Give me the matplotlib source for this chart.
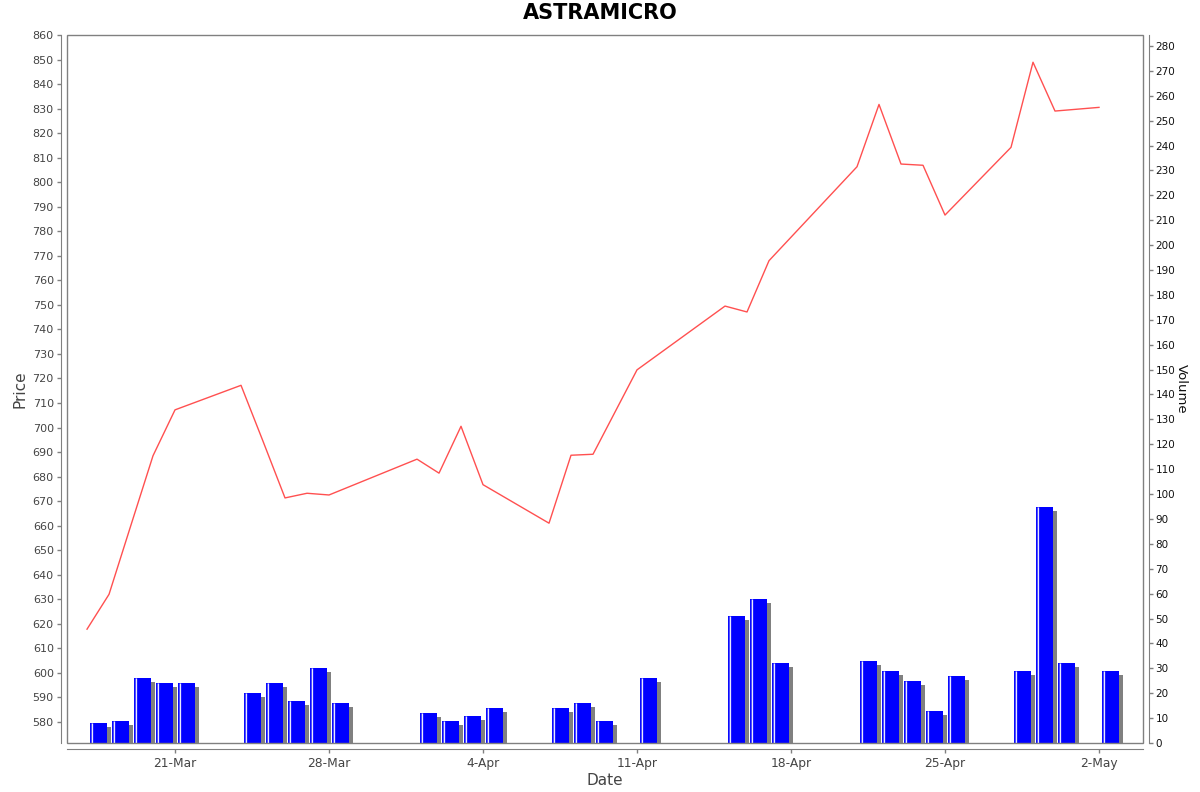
import matplotlib
matplotlib.use("Agg")
import matplotlib.pyplot as plt
import matplotlib.dates as mdates
from matplotlib.patches import Rectangle
import numpy as np
import datetime as dt

plt.rcParams['font.family'] = ['DejaVu Sans']

# ---- data ----
dates = ["2025-03-17", "2025-03-18", "2025-03-19", "2025-03-20", "2025-03-21",
         "2025-03-24", "2025-03-25", "2025-03-26", "2025-03-27", "2025-03-28",
         "2025-04-01", "2025-04-02", "2025-04-03", "2025-04-04",
         "2025-04-07", "2025-04-08", "2025-04-09",
         "2025-04-11",
         "2025-04-15", "2025-04-16", "2025-04-17",
         "2025-04-21", "2025-04-22", "2025-04-23", "2025-04-24", "2025-04-25",
         "2025-04-28", "2025-04-29", "2025-04-30",
         "2025-05-02"]
price = [617.8, 632.0, 660.3, 688.5, 707.2,
         717.2, 694.4, 671.3, 673.2, 672.5,
         687.1, 681.4, 700.5, 676.7,
         661.0, 688.7, 689.1,
         723.5,
         749.5, 747.1, 768.0,
         806.3, 831.7, 807.4, 806.9, 786.6,
         814.2, 848.9, 829.0,
         830.5]
volume = [8, 9, 26, 24, 24,
          20, 24, 17, 30, 16,
          12, 9, 11, 14,
          14, 16, 9,
          26,
          51, 58, 32,
          33, 29, 25, 13, 27,
          29, 95, 32,
          29]
x_tick_dates = ["2025-03-21", "2025-03-28", "2025-04-04", "2025-04-11",
                "2025-04-18", "2025-04-25", "2025-05-02"]
title = "ASTRAMICRO"

# ---- figure ----
W, H = 1200, 792
fig = plt.figure(figsize=(W / 100, H / 100), dpi=100)
L, R, T, B = 67, 1143, 35, 743
ax = fig.add_axes([L / W, 1 - B / H, (R - L) / W, (B - T) / H])
ax2 = ax.twinx()

xd = mdates.date2num([dt.datetime.strptime(d, "%Y-%m-%d") for d in dates])
xt = mdates.date2num([dt.datetime.strptime(d, "%Y-%m-%d") for d in x_tick_dates])
vol = np.array(volume, dtype=float)

x0 = mdates.date2num(dt.datetime(2025, 3, 21)) - 4.91
x1 = mdates.date2num(dt.datetime(2025, 3, 21)) + 44.0
px_day = (R - L) / (x1 - x0)
vtop = 284.4
px_vol = (B - T) / vtop

# volume bars (right axis)
bar_off = 3 / px_day
bar_w = 17 / px_day
sh_dx = 4 / px_day
sh_dy = 4 / px_vol
ax2.bar(xd + bar_off + sh_dx, np.maximum(vol - sh_dy, 0), width=bar_w, align='edge',
        color='#808080', edgecolor='none', zorder=1)
ax2.bar(xd + bar_off, vol, width=bar_w, align='edge',
        color='#0000FF', edgecolor='none', zorder=2)
ax2.vlines(xd + bar_off + 1.5 / px_day, 0, vol, colors='white', linewidth=0.9, zorder=3)
ax2.vlines(xd + bar_off + 0.5 / px_day, 0, vol, colors='#5050ff', linewidth=0.9, zorder=3)

# price line (left axis)
ax.plot(xd, price, color='#FF5050', linewidth=1.0, zorder=5)

ax.set_zorder(ax2.get_zorder() + 1)
ax.patch.set_visible(False)

ax.set_xlim(x0, x1)
ax.set_ylim(571.4, 860)
ax2.set_ylim(0, vtop)

# spines
gray = '#808080'
for a in (ax, ax2):
    for s in a.spines.values():
        s.set_visible(False)
        s.set_color(gray)
ax.spines['left'].set_visible(True)
ax.spines['left'].set_position(('outward', 4))
ax.spines['bottom'].set_visible(True)
ax.spines['bottom'].set_position(('outward', 4))
ax2.spines['right'].set_visible(True)
ax2.spines['right'].set_position(('outward', 4))
ax.add_patch(Rectangle((0, 0), 1, 1, transform=ax.transAxes, fill=False,
                       edgecolor=gray, linewidth=1.0, zorder=10, clip_on=False))

# ticks
ax.set_yticks(np.arange(580, 861, 10))
ax2.set_yticks(np.arange(0, 281, 10))
ax.set_xticks(xt)
ax.xaxis.set_major_formatter(mdates.DateFormatter('%-d-%b'))
ax.tick_params(axis='y', colors=gray, labelcolor='#444444', labelsize=8, length=3, width=1, pad=2.5)
ax.tick_params(axis='x', colors=gray, labelcolor='#444444', labelsize=8.8, length=3, width=1, pad=3)
ax2.tick_params(axis='y', colors=gray, labelcolor='#111111', labelsize=7.5, length=3, width=1, pad=2)

ax.set_xlabel('Date', fontsize=11, color='#444444', labelpad=2)
ax.set_ylabel('Price', fontsize=11, color='#444444', labelpad=4)
ax2.set_ylabel('Volume', fontsize=9.5, color='#111111', rotation=270, labelpad=9)

fig.text(0.5, 1 - 13 / H, title, ha='center', va='center', fontsize=15,
         fontweight='bold', color='black')

fig.savefig('out.png', dpi=100)
